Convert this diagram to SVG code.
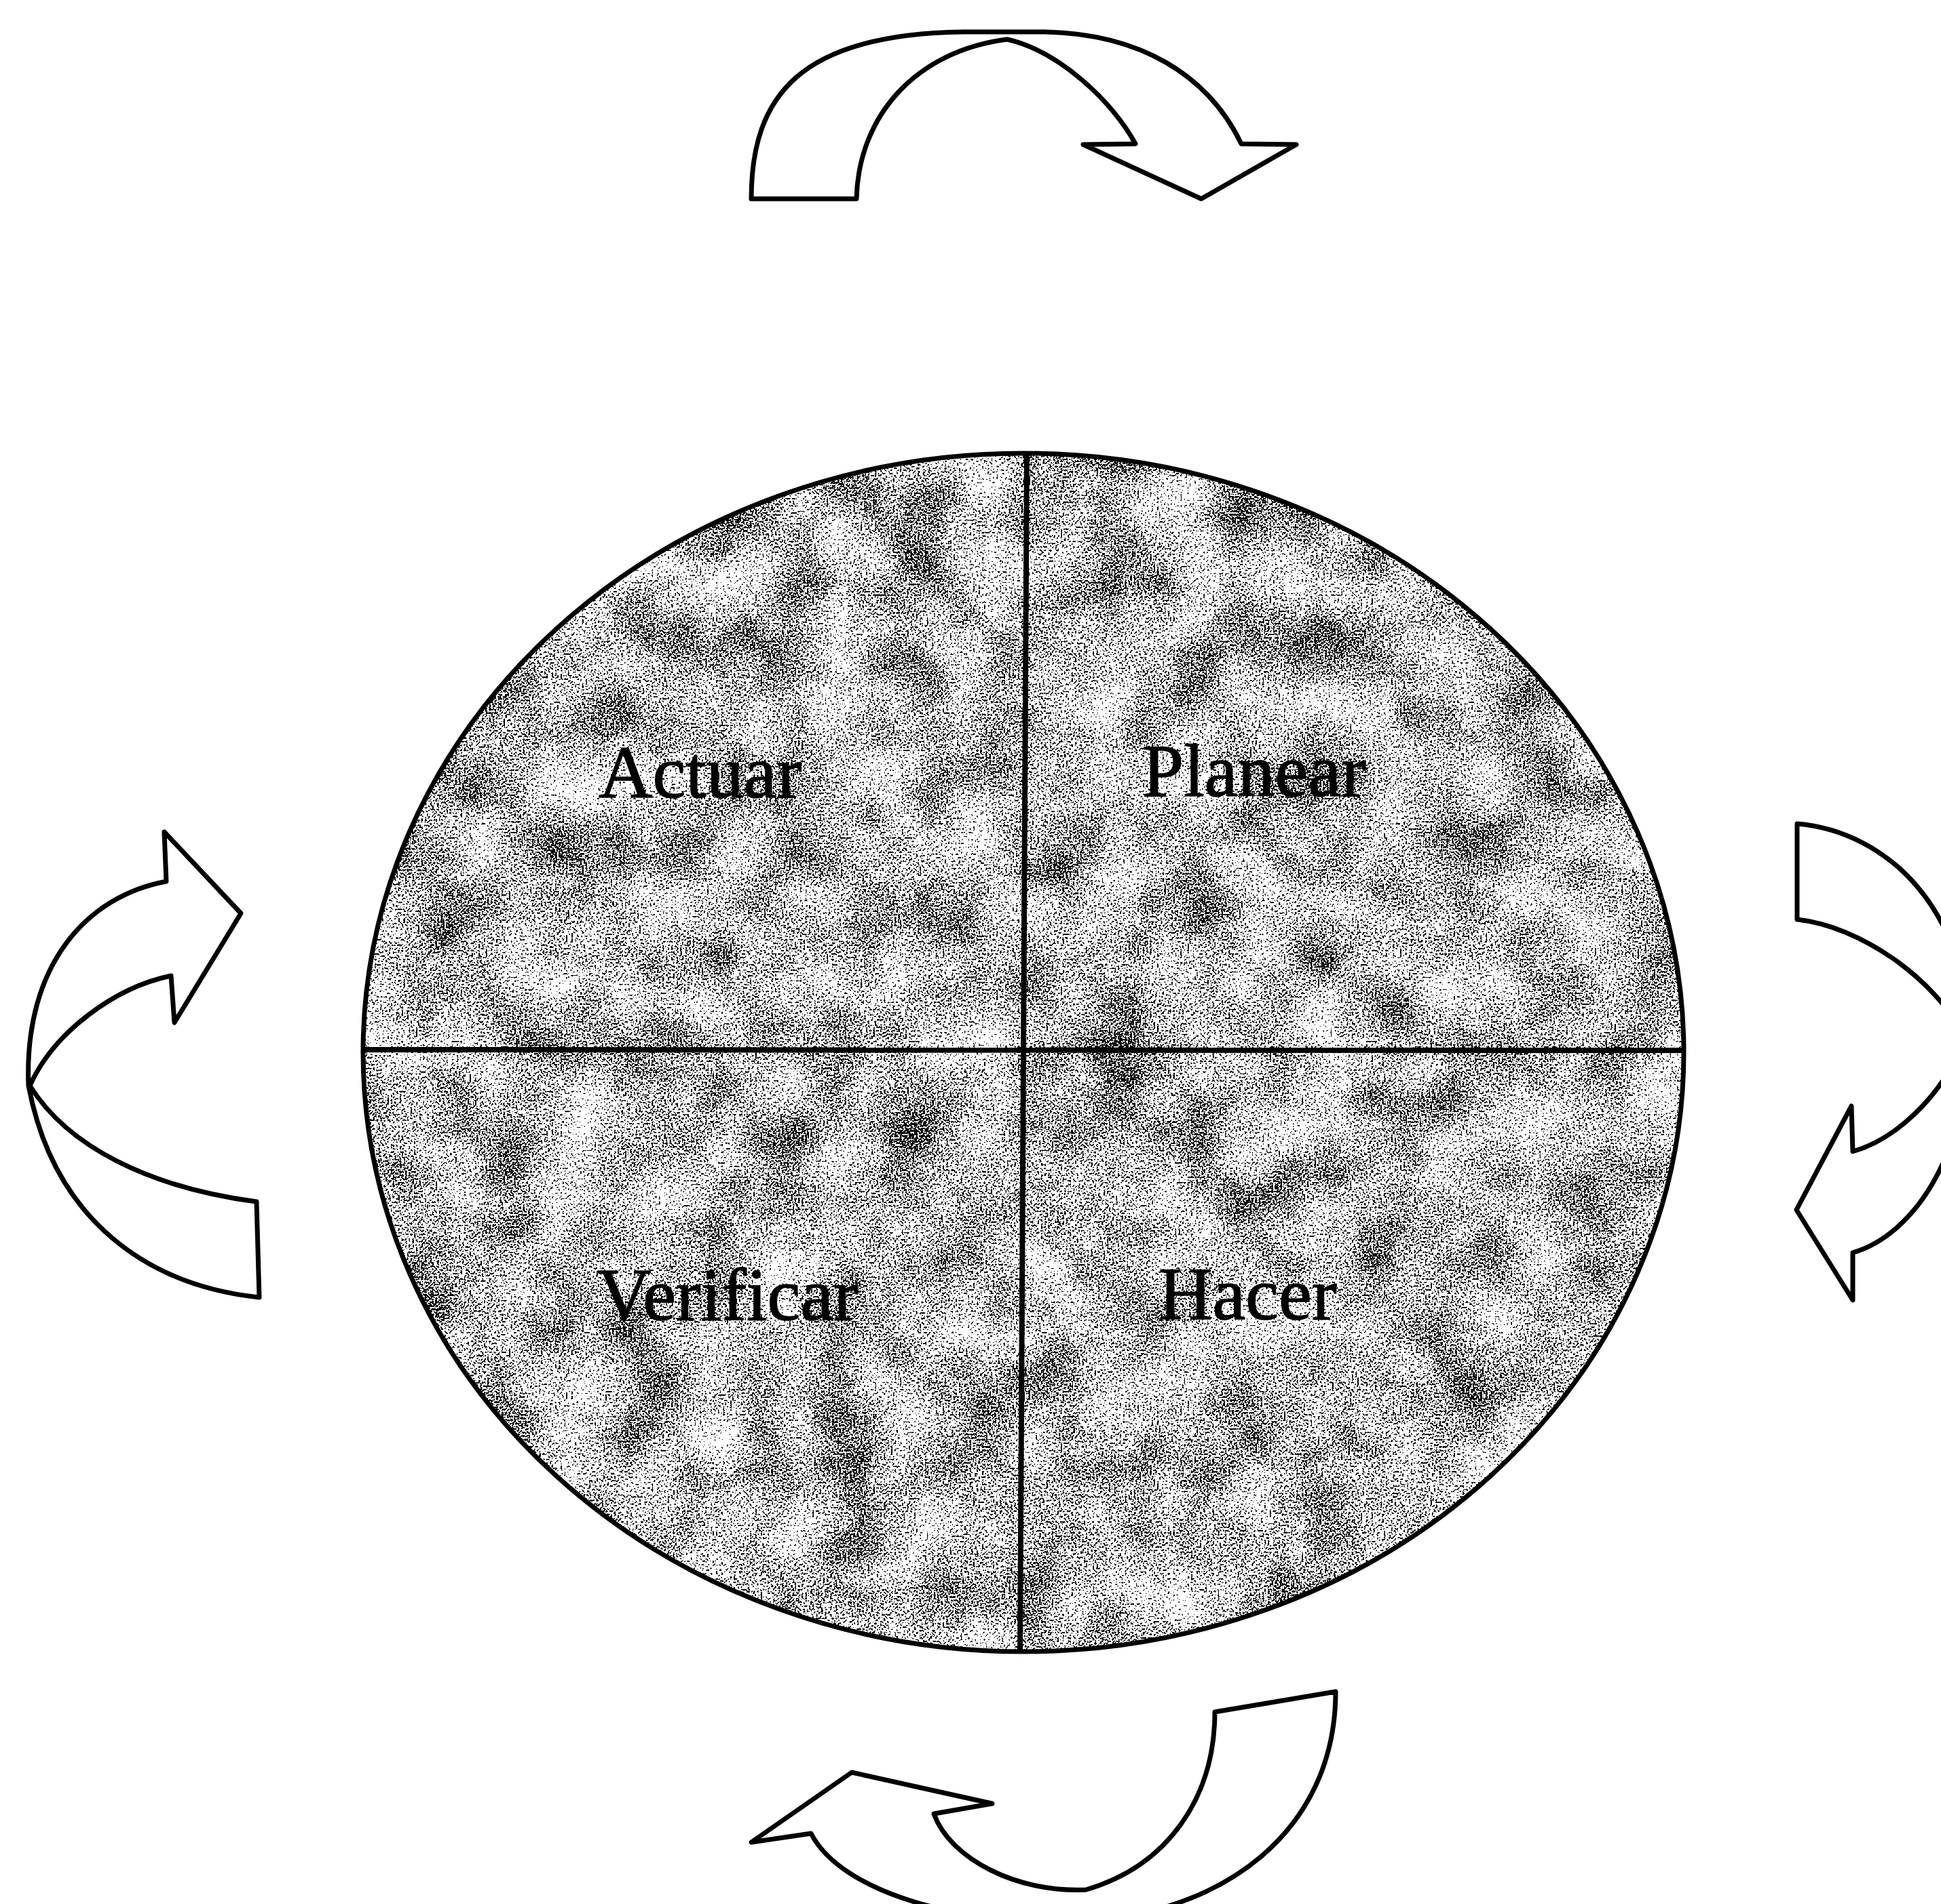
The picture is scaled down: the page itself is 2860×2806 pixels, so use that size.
<svg xmlns="http://www.w3.org/2000/svg" width="2860" height="2806" viewBox="0 0 2860 2806">
  <style>
    .outline { fill: none; stroke: #000; stroke-width: 7; stroke-linejoin: round; }
    .divider { stroke: #000; stroke-width: 8; fill: none; }
    .arrow { fill: #fff; stroke: #000; stroke-width: 7; stroke-linejoin: round; }
    .label { font-family: "Liberation Serif", "Times New Roman", serif; font-size: 110px; fill: #000; stroke: #000; stroke-width: 1.5; }
  </style>
  <defs>
    <filter id="stipple" x="0" y="0" width="1" height="1" color-interpolation-filters="sRGB">
      <feTurbulence type="fractalNoise" baseFrequency="0.01" numOctaves="3" seed="5" result="low"/>
      <feColorMatrix in="low" type="matrix" values="1 0 0 0 0  1 0 0 0 0  1 0 0 0 0  0 0 0 0 1" result="lowg"/>
      <feTurbulence type="fractalNoise" baseFrequency="0.38" numOctaves="1" seed="11" result="high"/>
      <feColorMatrix in="high" type="matrix" values="1 0 0 0 0  1 0 0 0 0  1 0 0 0 0  0 0 0 0 1" result="highg"/>
      <feComposite in="lowg" in2="highg" operator="arithmetic" k1="0" k2="0.5" k3="1.5" k4="-0.5" result="sum"/>
      <feComponentTransfer in="sum" result="thr">
        <feFuncR type="discrete" tableValues="0 0 0 0 0 0 0 0 1 1 1 1 1 1 1 1 1 1 1 1"/>
        <feFuncG type="discrete" tableValues="0 0 0 0 0 0 0 0 1 1 1 1 1 1 1 1 1 1 1 1"/>
        <feFuncB type="discrete" tableValues="0 0 0 0 0 0 0 0 1 1 1 1 1 1 1 1 1 1 1 1"/>
      </feComponentTransfer>
      <feComposite in="thr" in2="SourceGraphic" operator="in"/>
    </filter>
  </defs>

  <rect x="0" y="0" width="2860" height="2806" fill="#fff"/>

  <g id="cycle">
    <ellipse cx="1508" cy="1551" rx="973" ry="883" fill="#aaa" filter="url(#stipple)"/>
    <ellipse class="outline" cx="1508" cy="1551" rx="973" ry="883"/>
    <line class="divider" x1="1513" y1="668" x2="1503" y2="2434"/>
    <line class="divider" x1="535" y1="1547" x2="2481" y2="1548"/>
  </g>

  <g id="actuar"><text class="label" x="882" y="1175">Actuar</text></g>
  <g id="planear"><text class="label" x="1683" y="1173">Planear</text></g>
  <g id="verificar"><text class="label" x="880" y="1945">Verificar</text></g>
  <g id="hacer"><text class="label" x="1707" y="1944">Hacer</text></g>

  <g id="connectors">
    <path id="arrow-top" class="arrow" d="M 1107,293 L 1262,293 C 1265,170 1350,75 1484,58 C 1560,75 1640,150 1673,212 L 1596,213 L 1770,293 L 1910,213 L 1829,212 C 1780,110 1680,50 1540,47 L 1420,47 C 1180,50 1107,140 1107,293 Z"/>
    <path id="arrow-right" class="arrow" d="M 2648,1214 C 2780,1225 2900,1340 2900,1530 C 2900,1700 2820,1820 2730,1846 L 2730,1916 L 2647,1783 L 2728,1630 L 2730,1697 C 2790,1680 2860,1620 2896,1530 C 2850,1440 2740,1365 2648,1355 Z"/>
    <path id="arrow-bottom" class="arrow" d="M 1968,2493 L 1790,2523 C 1790,2650 1720,2750 1600,2785 C 1500,2790 1400,2740 1376,2673 L 1462,2658 L 1255,2612 L 1107,2715 L 1195,2702 C 1240,2790 1420,2840 1600,2830 C 1800,2820 1968,2700 1968,2493 Z"/>
    <path id="arrow-left" class="arrow" d="M 242,1226 L 355,1346 L 257,1507 L 252,1438 C 170,1455 80,1520 44,1600 C 100,1690 220,1750 378,1771 L 382,1912 C 220,1895 80,1800 42,1600 C 35,1420 130,1320 245,1299 Z"/>
  </g>
</svg>
